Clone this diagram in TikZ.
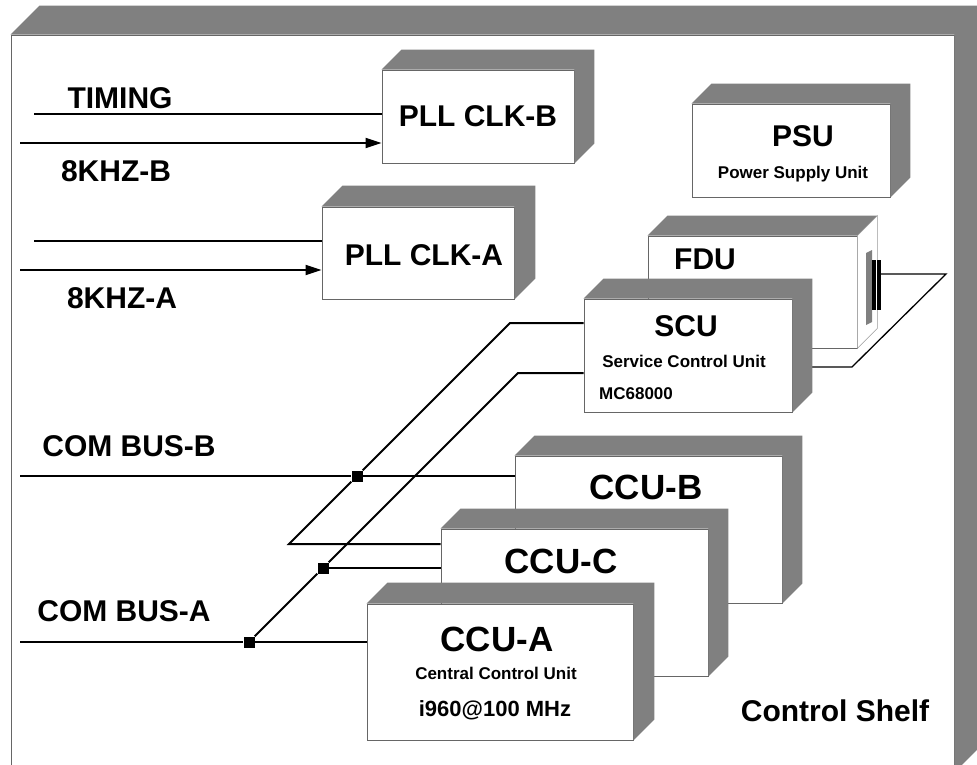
\documentclass[tikz,border=0pt]{standalone}
\usepackage{fontspec}
\setmainfont{Liberation Sans}
\usepackage{tikz}
\usetikzlibrary{arrows.meta}
\definecolor{boxgray}{HTML}{808080}
\newcommand{\boxdepth}[2]{%
  \fill[boxgray] (#1.north west) -- ++(#2,-#2) -- ([shift={(#2,-#2)}]#1.north east)
    -- ([shift={(#2,-#2)}]#1.south east) -- (#1.south east) -- (#1.north east) -- cycle;}

\begin{document}
\begin{tikzpicture}[x=1pt,y=-1pt,>={Triangle[length=16pt,width=10pt]},
 every node/.style={font=\fontsize{30}{34}\selectfont\bfseries,inner sep=0pt},
 unit/.style={draw=black!60,line width=0.8pt,fill=white},
 tag/.style={font=\fontsize{35}{40}\selectfont\bfseries},
 note/.style={font=\fontsize{17}{20}\selectfont\bfseries},
 wire/.style={line width=2pt},
 joint/.style={fill=black,minimum size=11pt}]
    \useasboundingbox (0,0) rectangle (977,765);
    \node[unit,minimum width=943pt,minimum height=737pt] (shelf) at (482.5,403.5) {};
    \boxdepth{shelf}{29}
    \node (shelftext) at (835,711) {Control Shelf};

    \node[unit,minimum width=192pt,minimum height=93pt] (pllb) at (478,116.5) {PLL CLK-B};
    \boxdepth{pllb}{20}
    \node[unit,minimum width=192pt,minimum height=92pt] (plla) at (418,253) {};
    \boxdepth{plla}{21}
    \node (pllatext) at (424,255) {PLL CLK-A};

    \node[unit,minimum width=198pt,minimum height=93pt] (psu) at (791,150.5) {};
    \boxdepth{psu}{20}
    \node (psutext) at (803,136) {PSU};
    \node[note] (psunote) at (793,174) {Power Supply Unit};

    \node[unit,minimum width=209pt,minimum height=112pt] (fdu) at (752.5,292) {};
    \fill[boxgray] (fdu.north west) -- ++(20,-20) -- ([shift={(20,-20)}]fdu.north east)
        -- (fdu.north east) -- cycle;
    \draw[black!40,fill=white,line width=0.6pt] (fdu.north east) -- ++(20,-20)
        -- ([shift={(20,-20)}]fdu.south east) -- (fdu.south east) -- cycle;
    \fill[boxgray] (866,253) -- (872,250) -- (872,322) -- (866,325) -- cycle;
    \node[fill=black,minimum width=9pt,minimum height=50pt] (port) at (876.5,285) {};
    \draw[white,line width=1pt] (port.north) -- (port.south);
    \node (fdutext) at (705,259) {FDU};
    \coordinate (cablea) at (946,274);
    \coordinate (cableb) at (852,367);
    \coordinate (cablec) at (800,367);
    \draw[line width=1.3pt] ([yshift=11pt]port.east) -- (cablea) -- (cableb) -- (cablec);

    \node[unit,minimum width=208pt,minimum height=113pt] (scu) at (688,355.5) {};
    \boxdepth{scu}{20}
    \node (scutext) at (686,326) {SCU};
    \node[note] (scunote) at (684,361) {Service Control Unit};
    \node[note,anchor=west] (scucpu) at (599,394) {MC68000};

    \node[unit,minimum width=267pt,minimum height=147pt] (ccub) at (648.5,529.5) {};
    \boxdepth{ccub}{20}
    \node[tag] (ccubtext) at (646,487) {CCU-B};
    \node[unit,minimum width=267pt,minimum height=147pt] (ccuc) at (574.5,602.5) {};
    \boxdepth{ccuc}{20}
    \node[tag] (ccuctext) at (561,561) {CCU-C};
    \node[unit,minimum width=266pt,minimum height=136pt] (ccua) at (500,672) {};
    \boxdepth{ccua}{21}
    \node[tag] (ccuatext) at (497,639) {CCU-A};
    \node[note] (ccuanote) at (496,673) {Central Control Unit};
    \node[font=\fontsize{22}{26}\selectfont\bfseries] (ccuacpu) at (495,710) {i960@100 MHz};

    \coordinate (timingin) at (34,114);
    \coordinate (clkbin) at (20,143);
    \draw[wire] (timingin) -- (timingin -| pllb.west);
    \draw[wire,->] (clkbin) -- (clkbin -| pllb.west);
    \node (timing) at (120,98) {TIMING};
    \node (clkb) at (116,171) {8KHZ-B};
    \coordinate (timingain) at (34,241);
    \coordinate (clkain) at (20,270);
    \draw[wire] (timingain) -- (timingain -| plla.west);
    \draw[wire,->] (clkain) -- (clkain -| plla.west);
    \node (clka) at (122,298) {8KHZ-A};

    \coordinate (busbin) at (20,476);
    \node[joint] (jb) at (357,476) {};
    \draw[wire] (busbin) -- (jb) -- (jb -| ccub.west);
    \node (busb) at (129,446) {COM BUS-B};
    \coordinate (busain) at (20,642);
    \node[joint] (ja) at (249,642) {};
    \draw[wire] (busain) -- (ja) -- (ja -| ccua.west);
    \node (busa) at (124,611) {COM BUS-A};

    \coordinate (scuup) at (510,323);
    \coordinate (scuupend) at (289,544);
    \draw[wire] (scu.west |- scuup) -- (scuup) -- (jb) -- (scuupend) -- (scuupend -| ccuc.west);
    \coordinate (sculow) at (518,373);
    \node[joint] (jc) at (323,568) {};
    \draw[wire] (scu.west |- sculow) -- (sculow) -- (jc) -- (ja);
    \draw[wire] (jc) -- (jc -| ccuc.west);
\end{tikzpicture}
\end{document}
